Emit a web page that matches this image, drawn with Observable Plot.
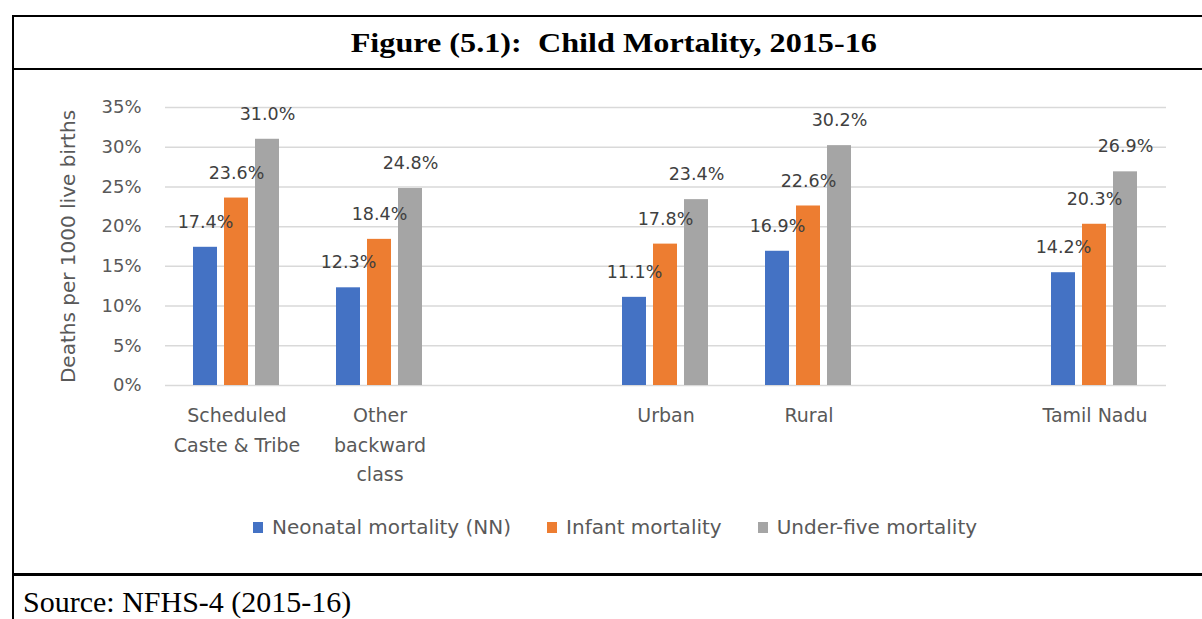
<!DOCTYPE html>
<html>
<head>
<meta charset="utf-8">
<script src="https://cdn.jsdelivr.net/npm/d3@7"></script>
<script src="https://cdn.jsdelivr.net/npm/@observablehq/plot@0.6"></script>
<style>
  html, body { margin: 0; padding: 0; background: #fff; }
  body { width: 1202px; height: 619px; overflow: hidden; position: relative; font-family: "DejaVu Sans", sans-serif; }
  .hline, .vline { position: absolute; background: #000; }
  #title { position: absolute; left: 20px; width: 1188px; top: 29px; height: 28px; line-height: 28px; text-align: center;
           font-family: "Liberation Serif", serif; font-weight: bold; font-size: 28px; color: #000; white-space: pre; }
  #title span { display: inline-block; transform: scaleX(1.15); transform-origin: center; }
  #chart { position: absolute; left: 14px; top: 72px; }
  #legend { position: absolute; left: 14px; width: 1188px; top: 517px; height: 20px; display: flex; justify-content: center;
            padding-left: 14px; box-sizing: border-box; font-size: 20px; line-height: 20px; color: #595959; }
  .item { display: flex; align-items: center; margin: 0 18px; white-space: nowrap; }
  .sw { width: 10px; height: 11px; margin-right: 9px; margin-top: 1px; }
  #source { position: absolute; left: 23px; top: 587px; font-family: "Liberation Serif", serif; font-size: 30px; line-height: 30px; color: #000; white-space: nowrap; }
</style>
</head>
<body>
<div class="hline" style="left:12px; top:15px; width:1190px; height:2px;"></div>
<div class="hline" style="left:12px; top:68px; width:1190px; height:2px;"></div>
<div class="hline" style="left:12px; top:573px; width:1190px; height:3px;"></div>
<div class="vline" style="left:12px; top:15px; width:2px; height:604px;"></div>
<div id="title"><span>Figure (5.1):  Child Mortality, 2015-16</span></div>
<div id="chart"></div>
<div id="legend"></div>
<div id="source">Source: NFHS-4 (2015-16)</div>
<script>
// ---- data ----
const categories = ["Scheduled Caste & Tribe", "Other backward class", "Urban", "Rural", "Tamil Nadu"];
const categoryLabels = ["Scheduled\nCaste & Tribe", "Other\nbackward\nclass", "Urban", "Rural", "Tamil Nadu"];
// slot order on the axis, with two empty gaps as in the original
const slots = ["Scheduled Caste & Tribe", "Other backward class", "gap-1", "Urban", "Rural", "gap-2", "Tamil Nadu"];
const series = ["Neonatal mortality (NN)", "Infant mortality", "Under-five mortality"];
const neonatal = [17.4, 12.3, 11.1, 16.9, 14.2];
const infant = [23.6, 18.4, 17.8, 22.6, 20.3];
const underFive = [31.0, 24.8, 23.4, 30.2, 26.9];
const colors = ["#4472C4", "#ED7D31", "#A5A5A5"];
const yTicks = [0, 5, 10, 15, 20, 25, 30, 35];
const yLabel = "Deaths per 1000 live births";

// ---- build table ----
const seriesValues = [neonatal, infant, underFive];
const rows = [];
categories.forEach((c, i) => {
  series.forEach((s, j) => rows.push({category: c, series: s, value: seriesValues[j][i]}));
});
// empty placeholder rows keep the gap slots rendered (no bar is drawn for them)
const barRows = rows.concat(slots.filter(s => !categories.includes(s)).map(s => ({category: s, series: series[0], value: null})));
const labelMap = new Map(categories.map((c, i) => [c, categoryLabels[i]]));

const chart = Plot.plot({
  width: 1188,
  height: 433,
  marginLeft: 148,
  marginRight: 34,
  marginTop: 35,
  marginBottom: 120,
  style: {fontFamily: '"DejaVu Sans", sans-serif', background: "transparent", overflow: "visible"},
  fx: {domain: slots, paddingInner: 0, paddingOuter: 0},
  x: {domain: series, paddingInner: 0.22, paddingOuter: 0.855, axis: null},
  y: {domain: [0, 35]},
  color: {domain: series, range: colors},
  marks: [
    Plot.ruleY(yTicks, {stroke: "#d9d9d9", strokeWidth: 1.5}),
    Plot.barY(barRows, {fx: "category", x: "series", y: "value", fill: "series"}),
    Plot.text(rows, {fx: "category", x: "series", y: "value", text: d => d.value.toFixed(1) + "%",
      dy: -25, lineAnchor: "middle", fontSize: 17.5, fill: "#404040"}),
    Plot.axisY(yTicks, {tickSize: 0, tickPadding: 24, tickFormat: d => d + "%", fontSize: 18, fill: "#595959", label: null}),
    Plot.axisY({ticks: [], label: yLabel, labelAnchor: "center", labelArrow: "none", labelOffset: 105, fontSize: 20, fill: "#595959"}),
    Plot.axisFx({anchor: "bottom", tickSize: 0, tickPadding: 16, lineHeight: 1.55, fontSize: 19, fill: "#595959",
      tickFormat: d => labelMap.get(d) ?? "", label: null})
  ]
});
document.getElementById("chart").appendChild(chart);

// ---- legend ----
const legend = document.getElementById("legend");
series.forEach((s, i) => {
  const item = document.createElement("div");
  item.className = "item";
  const sw = document.createElement("div");
  sw.className = "sw";
  sw.style.background = colors[i];
  const tx = document.createElement("span");
  tx.textContent = s;
  item.appendChild(sw);
  item.appendChild(tx);
  legend.appendChild(item);
});
</script>
</body>
</html>
